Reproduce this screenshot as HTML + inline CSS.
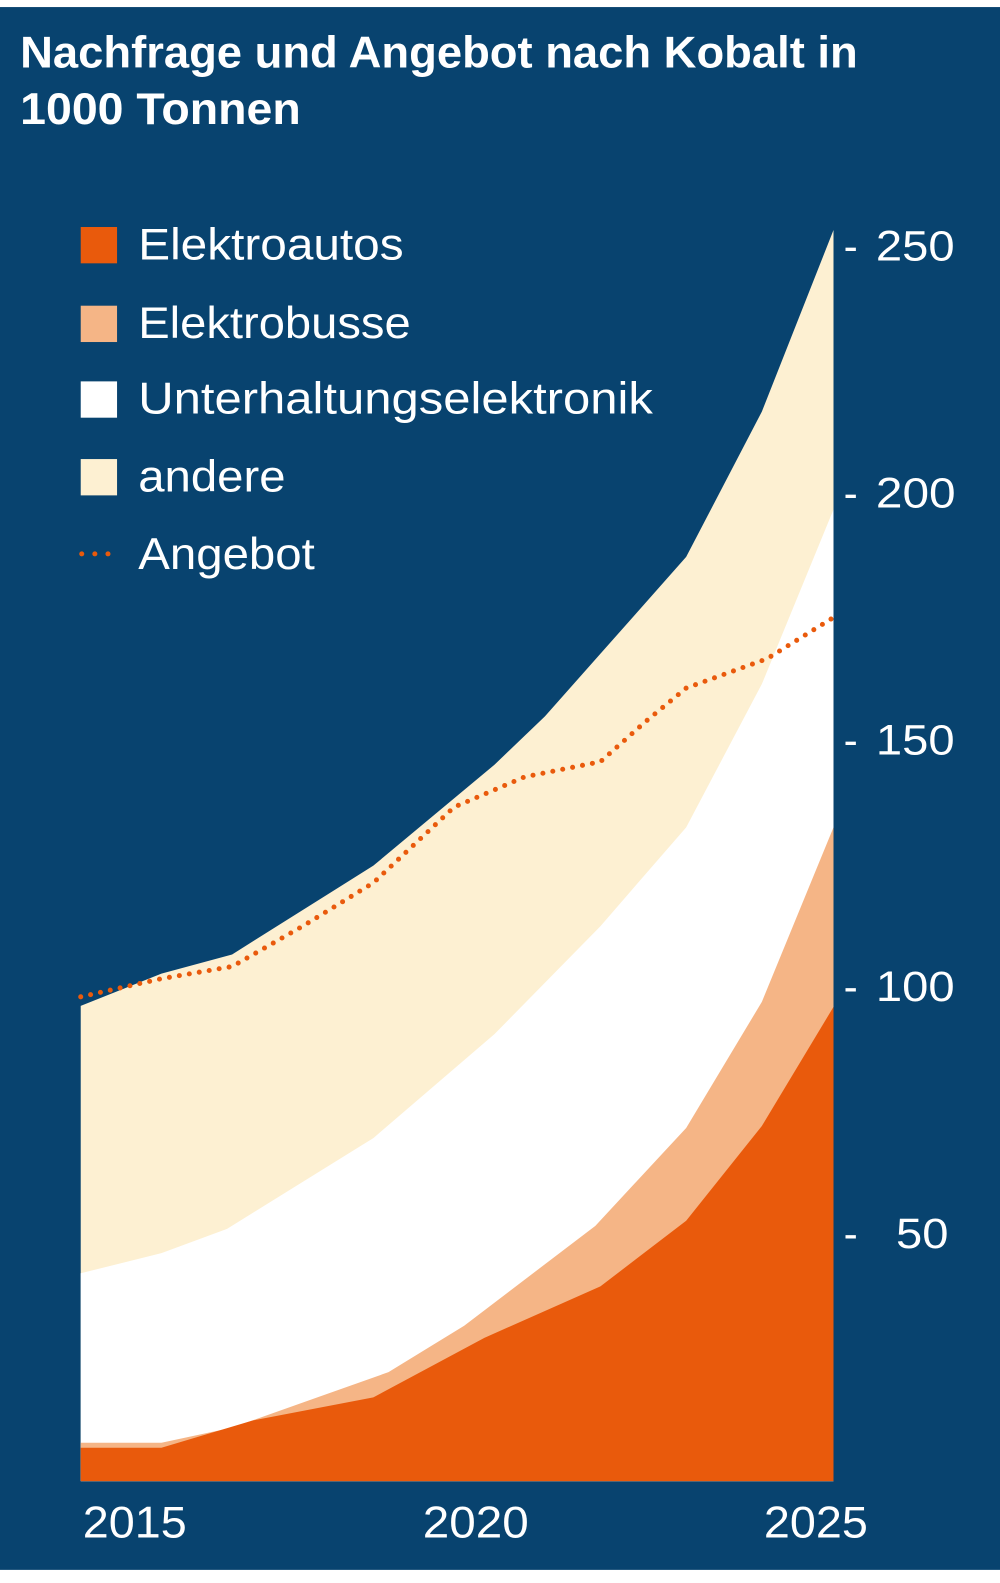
<!DOCTYPE html>
<html><head><meta charset="utf-8"><style>html,body{margin:0;padding:0;background:#fff}svg{display:block}</style></head>
<body>
<svg width="1000" height="1583" viewBox="0 0 991 1569" preserveAspectRatio="none" xmlns="http://www.w3.org/2000/svg" font-family="Liberation Sans, sans-serif">
<rect x="0" y="7" width="991" height="1549" fill="#08436f"/>
<text x="20" y="67" fill="#fff" font-size="44" font-weight="bold" textLength="830" lengthAdjust="spacingAndGlyphs">Nachfrage und Angebot nach Kobalt in</text>
<text x="20" y="123" fill="#fff" font-size="44" font-weight="bold" textLength="278" lengthAdjust="spacingAndGlyphs">1000 Tonnen</text>

<rect x="80" y="225" width="36" height="36" fill="#e95a0c"/>
<rect x="80" y="303" width="36" height="36" fill="#f5b586"/>
<rect x="80" y="378" width="36" height="36" fill="#ffffff"/>
<rect x="80" y="455" width="36" height="36" fill="#fdf0d2"/>
<g fill="#e95a0c"><circle cx="81" cy="549" r="2.5"/><circle cx="94" cy="549" r="2.5"/><circle cx="107" cy="549" r="2.5"/></g>
<g fill="#fff" font-size="44">
<text x="137" y="257" textLength="263" lengthAdjust="spacingAndGlyphs">Elektroautos</text>
<text x="137" y="335" textLength="270" lengthAdjust="spacingAndGlyphs">Elektrobusse</text>
<text x="137" y="410" textLength="510" lengthAdjust="spacingAndGlyphs">Unterhaltungselektronik</text>
<text x="137" y="487" textLength="146" lengthAdjust="spacingAndGlyphs">andere</text>
<text x="137" y="564" textLength="175" lengthAdjust="spacingAndGlyphs">Angebot</text>
</g>

<polygon fill="#fdf0d2" points="80,997 160,965 230,946 370,858 490,758 540,710 595,648 680,552 755,408 826,228 826,1468 80,1468"/>
<polygon fill="#ffffff" points="80,1262 160,1242 225,1218 370,1128 490,1025 595,918 680,820 755,678 826,505 826,1468 80,1468"/>
<polygon fill="#f5b586" points="80,1430 160,1430 230,1415 385,1360 460,1314 590,1215 680,1118 755,993 826,820 826,1468 80,1468"/>
<polygon fill="#e95a0c" points="80,1435 160,1435 250,1408 370,1385 480,1326 595,1275 680,1210 755,1116 826,998 826,1468 80,1468"/>
<polyline fill="none" stroke="#e95a0c" stroke-width="5" stroke-linecap="round" stroke-dasharray="0 10" points="80,988 160,970 230,958 300,918 370,875 450,800 520,770 595,755 640,715 680,682 760,653 826,612"/>

<g fill="#fff" font-size="42">
<text x="836" y="258">-</text><text x="868" y="258" textLength="78" lengthAdjust="spacingAndGlyphs">250</text>
<text x="836" y="503">-</text><text x="868" y="503" textLength="79" lengthAdjust="spacingAndGlyphs">200</text>
<text x="836" y="748">-</text><text x="868" y="748" textLength="78" lengthAdjust="spacingAndGlyphs">150</text>
<text x="836" y="992">-</text><text x="868" y="992" textLength="78" lengthAdjust="spacingAndGlyphs">100</text>
<text x="836" y="1237">-</text><text x="888" y="1237" textLength="52" lengthAdjust="spacingAndGlyphs">50</text>
</g>
<g fill="#fff" font-size="44">
<text x="82" y="1524" textLength="103" lengthAdjust="spacingAndGlyphs">2015</text>
<text x="419" y="1524" textLength="105" lengthAdjust="spacingAndGlyphs">2020</text>
<text x="757" y="1524" textLength="103" lengthAdjust="spacingAndGlyphs">2025</text>
</g>
</svg>
</body></html>
